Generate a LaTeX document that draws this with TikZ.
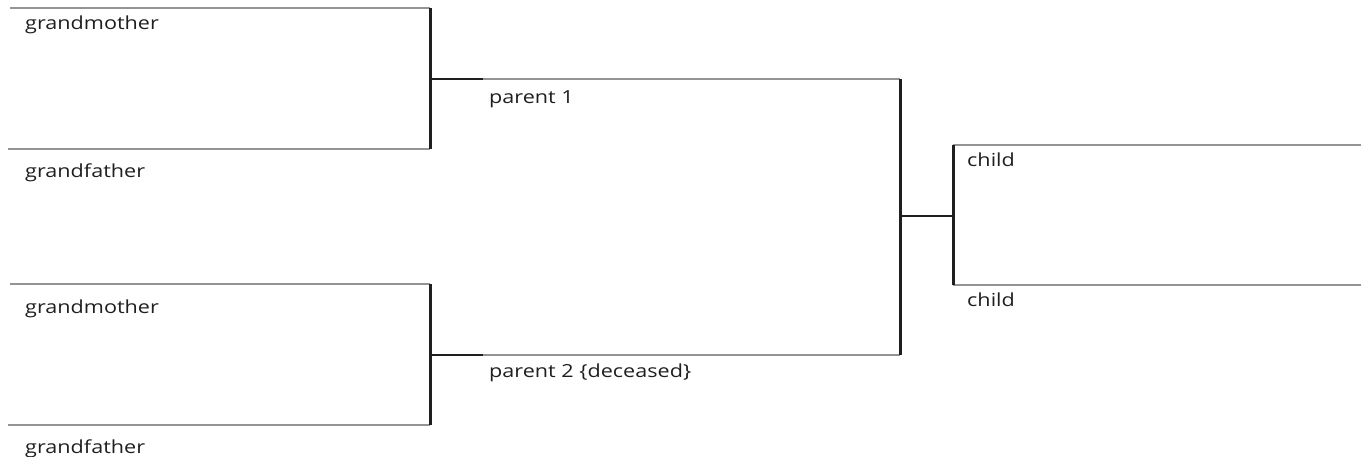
\documentclass[tikz,border=0pt]{standalone}
\usepackage{fontspec}
\setmainfont{Open Sans}
\newcommand{\wide}[1]{\scalebox{1.2}[1]{#1}}
\begin{document}
\begin{tikzpicture}[x=1pt,y=-1pt,
  hline/.style={draw=black!42, line width=2pt},
  vline/.style={draw=black!88, line width=3pt},
  cline/.style={draw=black!88, line width=2.4pt},
  lbl/.style={anchor=base west, inner sep=0pt, font=\fontsize{18}{21}\selectfont, text=black!88}]
\useasboundingbox (0,0) rectangle (1361,456);
% coordinates
\coordinate (gm1L) at (10,8);   \coordinate (gm1R) at (430,8);
\coordinate (gf1L) at (8,149);  \coordinate (gf1R) at (430,149);
\coordinate (gm2L) at (10,284); \coordinate (gm2R) at (430,284);
\coordinate (gf2L) at (8,425);  \coordinate (gf2R) at (430,425);
\coordinate (j1) at (430,79);   \coordinate (p1L) at (483,79);  \coordinate (p1R) at (900,79);
\coordinate (j2) at (430,355);  \coordinate (p2L) at (483,355); \coordinate (p2R) at (900,355);
\coordinate (jc) at (900,216);  \coordinate (jcR) at (953,216);
\coordinate (c1L) at (953,145); \coordinate (c1R) at (1361,145);
\coordinate (c2L) at (953,285); \coordinate (c2R) at (1361,285);
% horizontal gray lines
\draw[hline] (gm1L) -- (gm1R);
\draw[hline] (gf1L) -- (gf1R);
\draw[hline] (gm2L) -- (gm2R);
\draw[hline] (gf2L) -- (gf2R);
\draw[hline] (p1L) -- (p1R);
\draw[hline] (p2L) -- (p2R);
\draw[hline] (c1L) -- (c1R);
\draw[hline] (c2L) -- (c2R);
% connectors
\draw[cline] (j1) -- (p1L);
\draw[cline] (j2) -- (p2L);
\draw[cline] (jc) -- (jcR);
% verticals
\draw[vline] (gm1R) -- (gf1R);
\draw[vline] (gm2R) -- (gf2R);
\draw[vline] (p1R) -- (p2R);
\draw[vline] (c1L) -- (c2L);
% labels
\node[lbl] (tgm1) at (25,29) {\wide{grandmother}};
\node[lbl] (tgf1) at (25,177) {\wide{grandfather}};
\node[lbl] (tgm2) at (25,313) {\wide{grandmother}};
\node[lbl] (tgf2) at (25,453) {\wide{grandfather}};
\node[lbl] (tp1) at (489,103) {\wide{parent 1}};
\node[lbl] (tp2) at (489,377) {\wide{parent 2 \{deceased\}}};
\node[lbl] (tc1) at (967,166) {\wide{child}};
\node[lbl] (tc2) at (967,306) {\wide{child}};
\end{tikzpicture}
\end{document}
